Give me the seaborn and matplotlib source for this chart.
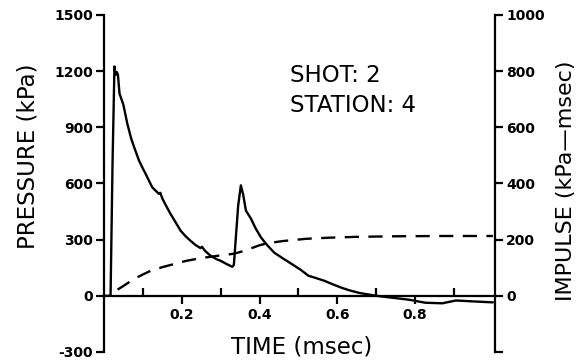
import numpy as np
import pandas as pd
import matplotlib
matplotlib.use('Agg')
import matplotlib.pyplot as plt
from matplotlib.ticker import FixedLocator
import seaborn as sns

# pressure trace (kPa) vs time (msec)
p_time = [0.0, 0.017, 0.022, 0.027, 0.030, 0.033, 0.036, 0.040, 0.045, 0.050,
          0.060, 0.070, 0.080, 0.090, 0.100, 0.107, 0.124, 0.141, 0.145, 0.150,
          0.160, 0.171, 0.185, 0.197, 0.210, 0.222, 0.235, 0.248, 0.252, 0.260,
          0.274, 0.290, 0.300, 0.315, 0.330, 0.334, 0.345, 0.352, 0.358, 0.365,
          0.378, 0.390, 0.404, 0.420, 0.438, 0.460, 0.482, 0.505, 0.526, 0.545,
          0.567, 0.590, 0.611, 0.630, 0.655, 0.680, 0.700, 0.740, 0.785, 0.826,
          0.870, 0.905, 0.950, 1.000]
pressure = [0, 0, 700, 1225, 1180, 1195, 1180, 1080, 1050, 1020,
            920, 840, 780, 723, 680, 652, 580, 545, 550, 520,
            480, 438, 390, 348, 318, 295, 272, 255, 262, 240,
            214, 195, 187, 170, 155, 165, 480, 590, 540, 455,
            412, 360, 311, 270, 230, 200, 171, 140, 107, 95,
            80, 60, 43, 30, 16, 7, 0, -10, -21, -37,
            -40, -25, -30, -35]

# impulse (kPa-msec)
i_time = [0.035, 0.05, 0.077, 0.10, 0.12, 0.15, 0.18, 0.21, 0.248, 0.29,
          0.335, 0.36, 0.38, 0.40, 0.42, 0.46, 0.52, 0.58, 0.65, 0.75,
          0.87, 1.0]
impulse = [22, 35, 60, 76, 89, 102, 113, 124, 134, 142,
           150, 160, 170, 180, 187, 195, 203, 207, 210, 212,
           213, 213]

p_ticks = [-300, 0, 300, 600, 900, 1200, 1500]
i_ticks = [-200, 0, 200, 400, 600, 800, 1000]
i_ticklabels = ['', '0', '200', '400', '600', '800', '1000']
t_major = [0.2, 0.4, 0.6, 0.8]
t_minor = [0.1, 0.3, 0.5, 0.7, 0.9]

sns.set_style('white')
plt.rcParams['font.family'] = ['DejaVu Sans']
plt.rcParams['text.color'] = 'black'
plt.rcParams['xtick.color'] = 'black'
plt.rcParams['ytick.color'] = 'black'
plt.rcParams['axes.labelcolor'] = 'black'

fig = plt.figure(figsize=(5.84, 3.61), dpi=100)
ax = fig.add_axes([0.178, 0.025, 0.670, 0.9335])
ax2 = ax.twinx()

p_df = pd.DataFrame({'t': p_time, 'p': pressure})
i_df = pd.DataFrame({'t': i_time, 'i': impulse})

sns.lineplot(data=p_df, x='t', y='p', ax=ax, color='black', lw=1.7,
             estimator=None, sort=False)
sns.lineplot(data=i_df, x='t', y='i', ax=ax2, color='black', lw=1.7,
             estimator=None, sort=False, dashes=False)
ax2.lines[0].set_dashes((6, 4))

ax.set_xlim(0, 1.006)
ax.set_ylim(-300, 1500)
ax2.set_ylim(-200, 1000)

# spines
for s in ['top', 'right']:
    ax.spines[s].set_visible(False)
for s in ['top', 'left', 'bottom']:
    ax2.spines[s].set_visible(False)
ax.spines['bottom'].set_position(('data', 0))
for sp in [ax.spines['left'], ax.spines['bottom'], ax2.spines['right']]:
    sp.set_linewidth(1.6)
    sp.set_color('black')

# ticks
ax.set_yticks(p_ticks)
ax.set_yticklabels([str(v) for v in p_ticks])
ax2.set_yticks(i_ticks)
ax2.set_yticklabels(i_ticklabels)
ax.xaxis.set_major_locator(FixedLocator(t_major))
ax.xaxis.set_minor_locator(FixedLocator(t_minor))
ax.set_xticklabels([f'{v:.1f}' for v in t_major])

ax.tick_params(axis='y', which='major', direction='out', length=6, width=1.6,
               pad=2, labelsize=10, left=True)
ax2.tick_params(axis='y', which='major', direction='out', length=6, width=1.6,
                pad=2, labelsize=10, right=True)
ax.tick_params(axis='x', which='major', direction='out', length=6, width=1.6,
               pad=3, labelsize=10, bottom=True)
ax.tick_params(axis='x', which='minor', direction='in', length=6, width=1.6,
               bottom=True)
for lab in ax.get_xticklabels() + ax.get_yticklabels() + ax2.get_yticklabels():
    lab.set_fontweight('bold')

ax.set_xlabel('')
ax.set_ylabel('')
ax2.set_ylabel('')

fig.text(0.517, 0.039, 'TIME (msec)', ha='center', va='center', fontsize=16.5)
fig.text(0.048, 0.568, 'PRESSURE (kPa)', ha='center', va='center',
         rotation=90, fontsize=16.5)
fig.text(0.969, 0.499, 'IMPULSE (kPa\u2014msec)', ha='center', va='center',
         rotation=90, fontsize=16)
fig.text(0.497, 0.792, 'SHOT: 2', ha='left', va='center', fontsize=16.5)
fig.text(0.497, 0.709, 'STATION: 4', ha='left', va='center', fontsize=16.5)

fig.savefig('out.png', dpi=100)
